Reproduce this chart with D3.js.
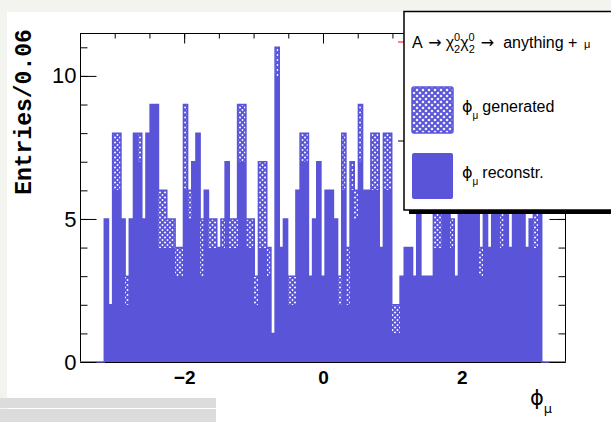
<!DOCTYPE html>
<html>
<head>
<meta charset="utf-8">
<script src="https://cdn.jsdelivr.net/npm/d3@7"></script>
<style>
  body { margin: 0; background: #fff; }
  svg { display: block; font-family: "Liberation Sans", Arial, sans-serif; }
</style>
</head>
<body>
<svg width="611" height="422"></svg>
<script>
// entries per 0.06 bin, 105 bins from -3.15 to 3.15
const generated = [
  5, 2, 8, 8, 5, 3, 5, 8, 8, 5,
  8, 9, 9, 6, 6, 5, 5, 4, 4, 9,
  6, 7, 8, 5, 6, 5, 5, 4, 5, 7,
  5, 5, 9, 9, 5, 5, 3, 7, 7, 4,
  1, 11, 4, 5, 3, 3, 6, 8, 8, 3,
  5, 7, 3, 6, 6, 5, 3, 8, 4, 7,
  6, 9, 6, 6, 8, 8, 4, 8, 8, 2,
  2, 3, 4, 4, 3, 8, 3, 3, 3, 7,
  7, 7, 6, 5, 3, 7, 6, 8, 6, 7,
  4, 6, 4, 7, 6, 6, 7, 4, 6, 8,
  6, 4, 5, 6, 6
];
const reconstructed = [
  5, 2, 6, 6, 5, 2, 5, 8, 7, 5,
  8, 9, 9, 4, 4, 4, 4, 3, 3, 6,
  5, 7, 8, 3, 6, 4, 4, 4, 4, 7,
  4, 4, 7, 7, 4, 4, 2, 4, 4, 3,
  1, 10, 4, 5, 2, 2, 6, 7, 7, 3,
  5, 7, 3, 6, 6, 5, 2, 6, 2, 6,
  5, 7, 6, 6, 6, 6, 4, 6, 6, 1,
  1, 3, 4, 4, 3, 7, 3, 3, 3, 4,
  4, 7, 6, 4, 3, 7, 6, 8, 6, 7,
  3, 6, 4, 7, 6, 4, 7, 4, 6, 8,
  6, 4, 5, 4, 6
];
const binLow = -3.15, binWidth = 0.06;
const xTickLabels = [-2, 0, 2];
const yTickLabels = [0, 5, 10];

const blue = '#5a55d8';
const phi = '\u03D5';

const svg = d3.select('svg');

// page background like the original screenshot
svg.append('rect').attr('width', 611).attr('height', 422).attr('fill', '#f3f3ef');
svg.append('rect').attr('x', 7).attr('y', 12).attr('width', 604).attr('height', 410).attr('fill', '#fff');
svg.append('rect').attr('x', 0).attr('y', 398).attr('width', 216).attr('height', 10).attr('fill', '#dcdcdc');
svg.append('rect').attr('x', 0).attr('y', 409).attr('width', 216).attr('height', 13).attr('fill', '#dcdcdc');

const defs = svg.append('defs');
function addHatch(id, size, sw) {
  const p = defs.append('pattern')
      .attr('id', id)
      .attr('patternUnits', 'userSpaceOnUse')
      .attr('width', size).attr('height', size);
  p.append('rect').attr('width', size).attr('height', size).attr('fill', '#fff');
  p.append('path')
      .attr('d', `M0,0L${size},${size}M${size},0L0,${size}`)
      .attr('stroke', blue).attr('stroke-width', sw);
}
addHatch('hatch', 5, 1.9);
addHatch('hatchKey', 6, 2);

const x = d3.scaleLinear().domain([-3.5, 3.5]).range([80, 566]);
const y = d3.scaleLinear().domain([0, 11.5]).range([362, 33]);

const bins = generated.map((g, i) => ({
  x0: binLow + i * binWidth,
  x1: binLow + (i + 1) * binWidth,
  gen: g,
  rec: reconstructed[i]
}));

// bottom axis first, its ticks sit under the bars
const xAxis = svg.append('g')
    .attr('transform', `translate(0,${y(0)})`)
    .call(d3.axisBottom(x).tickValues(xTickLabels).tickSize(-10).tickPadding(9)
      .tickSizeOuter(0).tickFormat(d3.format('d')));
xAxis.select('.domain').remove();
xAxis.selectAll('text').attr('font-size', 19).attr('font-weight', 'bold').attr('fill', '#000')
    .attr('font-family', '"Liberation Sans", Arial, sans-serif');

svg.append('rect')
    .attr('x', 80.5).attr('y', 33.5)
    .attr('width', 485).attr('height', 329)
    .attr('fill', 'none').attr('stroke', '#000').attr('stroke-width', 1);

svg.append('g').selectAll('rect')
    .data(bins)
    .enter()
    .append('rect')
    .attr('x', d => x(d.x0))
    .attr('width', d => x(d.x1) - x(d.x0))
    .attr('y', d => y(d.gen))
    .attr('height', d => y(0) - y(d.gen))
    .attr('fill', 'url(#hatch)')
    .attr('shape-rendering', 'crispEdges');

const outline = [[-3.5, 0]].concat(bins.map(d => [d.x0, d.gen]), [[3.15, 0], [3.5, 0]]);
svg.append('path')
    .attr('d', d3.line().x(d => x(d[0])).y(d => y(d[1])).curve(d3.curveStepAfter)(outline))
    .attr('fill', 'none')
    .attr('stroke', blue)
    .attr('stroke-width', 1.5);

svg.append('g').selectAll('rect')
    .data(bins)
    .enter()
    .append('rect')
    .attr('x', d => x(d.x0))
    .attr('width', d => x(d.x1) - x(d.x0))
    .attr('y', d => y(d.rec))
    .attr('height', d => y(0) - y(d.rec))
    .attr('fill', blue)
    .attr('shape-rendering', 'crispEdges');

function clean(g) {
  g.select('.domain').remove();
  g.selectAll('line').attr('stroke', '#000');
}

const yAxis = svg.append('g')
    .attr('transform', 'translate(80.5,0)')
    .call(d3.axisLeft(y).tickValues(yTickLabels).tickSize(-16).tickPadding(4))
    .call(clean);
yAxis.selectAll('text').attr('font-size', 22).attr('fill', '#000')
    .attr('font-family', '"Liberation Sans", Arial, sans-serif');
svg.append('g')
    .attr('transform', 'translate(80.5,0)')
    .call(d3.axisLeft(y).tickValues(d3.range(0, 12)).tickSize(-7).tickFormat(''))
    .call(clean);
svg.append('g')
    .attr('transform', 'translate(565.5,0)')
    .call(d3.axisRight(y).tickValues(yTickLabels).tickSize(-16).tickFormat(''))
    .call(clean);
svg.append('g')
    .attr('transform', 'translate(565.5,0)')
    .call(d3.axisRight(y).tickValues(d3.range(0, 12)).tickSize(-7).tickFormat(''))
    .call(clean);
svg.append('g')
    .attr('transform', 'translate(0,33.5)')
    .call(d3.axisTop(x).tickValues(d3.range(-3, 3.5, 0.5)).tickSize(-5).tickFormat(''))
    .call(clean);
svg.append('g')
    .attr('transform', 'translate(0,33.5)')
    .call(d3.axisTop(x).tickValues(xTickLabels).tickSize(-10).tickFormat(''))
    .call(clean);

svg.append('text')
    .attr('transform', 'translate(31,112) rotate(-90)')
    .attr('text-anchor', 'middle')
    .attr('font-family', '"Liberation Mono", "Courier New", monospace')
    .attr('font-weight', 'bold')
    .attr('font-size', 23)
    .text('Entries/0.06');

const xTitle = svg.append('text')
    .attr('x', 530).attr('y', 405)
    .attr('font-family', '"DejaVu Sans", sans-serif')
    .attr('font-size', 21);
xTitle.append('tspan').text(phi);
xTitle.append('tspan').attr('font-size', 13).attr('dy', 8).text('μ');

// small marks sticking out left of the legend
svg.append('line').attr('x1', 398).attr('x2', 404).attr('y1', 42).attr('y2', 42).attr('stroke', 'red');
svg.append('line').attr('x1', 398).attr('x2', 404).attr('y1', 141).attr('y2', 141).attr('stroke', '#000');

// legend
svg.append('rect').attr('x', 409).attr('y', 16).attr('width', 210).attr('height', 198).attr('fill', '#000');
svg.append('rect')
    .attr('x', 404).attr('y', 11.5)
    .attr('width', 220).attr('height', 198.5)
    .attr('fill', '#fff').attr('stroke', '#000').attr('stroke-width', 1.5);

const arrowFont = '"DejaVu Sans", sans-serif';
const title = svg.append('text').attr('x', 412).attr('y', 48).attr('font-size', 16)
    .attr('xml:space', 'preserve').style('white-space', 'pre');
title.append('tspan').text('A ');
title.append('tspan').attr('font-family', arrowFont).attr('dx', 2).text('→');
title.append('tspan').attr('dx', 4).text('χ');
title.append('tspan').attr('font-size', 11).attr('dy', -7).text('0');
title.append('tspan').attr('font-size', 11).attr('dx', -6.1).attr('dy', 12).text('2');
title.append('tspan').attr('dy', -5).text('χ');
title.append('tspan').attr('font-size', 11).attr('dy', -7).text('0');
title.append('tspan').attr('font-size', 11).attr('dx', -6.1).attr('dy', 12).text('2');
title.append('tspan').attr('dy', -5).attr('dx', 6).attr('font-family', arrowFont).text('→');
title.append('tspan').attr('dx', 9).text('anything + ');
title.append('tspan').attr('font-size', 11).attr('dx', 2).text('μ');

svg.append('rect')
    .attr('x', 412).attr('y', 87).attr('width', 41).attr('height', 46).attr('rx', 2)
    .attr('fill', 'url(#hatchKey)').attr('stroke', blue).attr('stroke-width', 1.5);
svg.append('rect')
    .attr('x', 412).attr('y', 153).attr('width', 41).attr('height', 46).attr('rx', 2)
    .attr('fill', blue);

[['generated', 112], ['reconstr.', 178]].forEach(([label, ty]) => {
  const t = svg.append('text').attr('x', 462).attr('y', ty).attr('font-size', 16);
  t.append('tspan').attr('font-family', '"DejaVu Sans", sans-serif').text(phi);
  t.append('tspan').attr('font-size', 10).attr('dy', 7).text('μ');
  t.append('tspan').attr('dx', 4).attr('dy', -7).text(label);
});
</script>
</body>
</html>
